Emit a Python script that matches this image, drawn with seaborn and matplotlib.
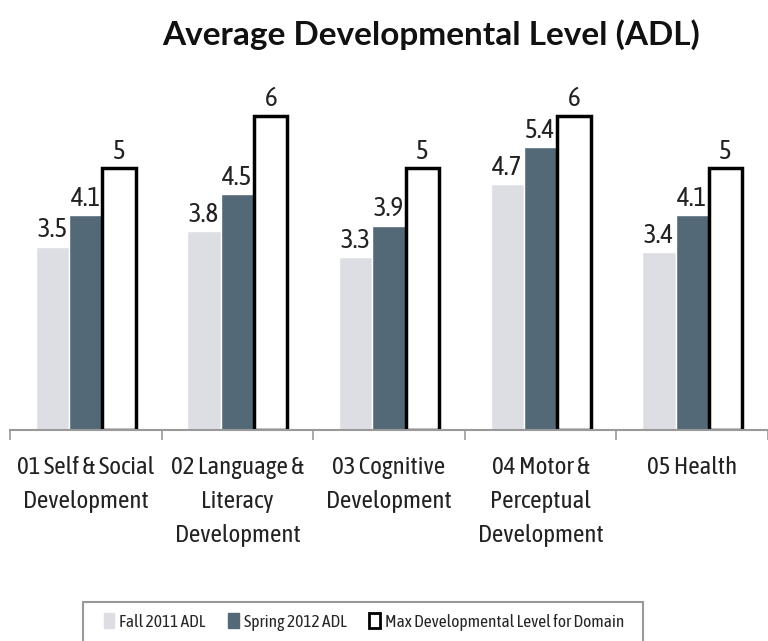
import matplotlib
matplotlib.use("Agg")
import matplotlib.pyplot as plt
from matplotlib.patches import Patch, Rectangle
import seaborn as sns
import pandas as pd

categories = ["01 Self & Social\nDevelopment", "02 Language &\nLiteracy\nDevelopment",
              "03 Cognitive\nDevelopment", "04 Motor &\nPerceptual\nDevelopment", "05 Health"]
fall_2011 = [3.5, 3.8, 3.3, 4.7, 3.4]
spring_2012 = [4.1, 4.5, 3.9, 5.4, 4.1]
max_level = [5, 6, 5, 6, 5]
series_names = ["Fall 2011 ADL", "Spring 2012 ADL", "Max Developmental Level for Domain"]

rows = []
for name, vals in zip(series_names, [fall_2011, spring_2012, max_level]):
    for c, v in zip(categories, vals):
        rows.append({"Domain": c, "Series": name, "Value": v})
df = pd.DataFrame(rows)

sns.set_style("white")
plt.rcParams['font.family'] = ['Asap Condensed', 'DejaVu Sans']

fall_c = "#DCDEE4"
spring_c = "#536977"

fig = plt.figure(figsize=(7.68, 6.41), dpi=100)
ax = fig.add_axes([10/768, 1 - 430/641, 758/768, 6.5*52.4/641])
sns.barplot(data=df, x="Domain", y="Value", hue="Series", order=categories,
            hue_order=series_names, palette=[fall_c, spring_c, "white"],
            width=0.66, saturation=1, ax=ax, legend=False)

for p in ax.containers[2]:
    p.set_edgecolor("black")
    p.set_linewidth(2.5)

for cont in ax.containers:
    ax.bar_label(cont, labels=[f"{v:g}" for v in cont.datavalues], padding=3,
                 fontsize=19.5, color="#222222")

ax.set_xlim(-0.5, 4.42)
ax.set_ylim(0, 6.5)
ax.set_xlabel("")
ax.set_ylabel("")
ax.set_yticks([])
for s in ["top", "left", "right"]:
    ax.spines[s].set_visible(False)
ax.spines["bottom"].set_color("#999999")
ax.spines["bottom"].set_linewidth(1.5)
ax.set_xticks([-0.5, 0.5, 1.5, 2.5, 3.5, 4.5], minor=True)
ax.tick_params(axis="x", which="minor", bottom=True, length=7, width=1.2, color="#999999")
ax.tick_params(axis="x", which="major", bottom=False, length=0, pad=19, labelsize=18,
               labelcolor="#222222")
for t in ax.get_xticklabels():
    t.set_linespacing(1.6)
    t.set_verticalalignment("top")

fig.text(431/768, 1 - 35/641, "Average Developmental Level (ADL)", ha="center", va="center",
         fontsize=24, fontweight="bold", family=["Lato", "DejaVu Sans"], color="#111111")

# legend frame
fig.patches.append(Rectangle((83/768, -0.01), (643-83)/768, (641-602)/641 + 0.01,
                             transform=fig.transFigure, fill=False, edgecolor="#999999",
                             linewidth=1.5))
handles = [Patch(facecolor=fall_c, edgecolor=fall_c),
           Patch(facecolor=spring_c, edgecolor=spring_c),
           Patch(facecolor="white", edgecolor="black", linewidth=2)]
fig.legend(handles, series_names, loc="center", bbox_to_anchor=(364/768, 1 - 622/641),
           ncol=3, frameon=False, fontsize=12.5, handlelength=0.6, handleheight=0.9,
           handletextpad=0.3, columnspacing=1.3)

fig.savefig("out.png", dpi=100)
